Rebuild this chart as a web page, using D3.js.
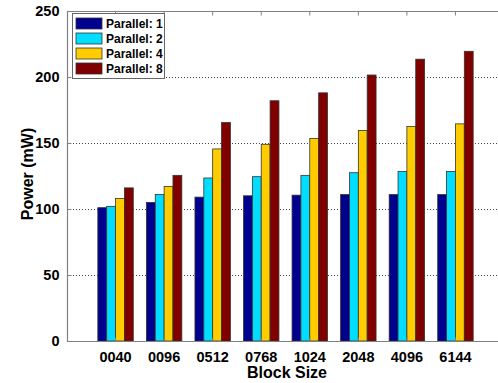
<!DOCTYPE html>
<html>
<head>
<meta charset="utf-8">
<script src="https://cdn.jsdelivr.net/npm/d3@7"></script>
<style>
  html, body { margin: 0; padding: 0; background: #fff; overflow: hidden; }
  text { font-family: "Liberation Sans", Arial, sans-serif; font-weight: bold; }
</style>
</head>
<body>
<div id="chart"></div>
<script>
// block sizes on the x axis
var blockSizes = ["0040", "0096", "0512", "0768", "1024", "2048", "4096", "6144"];
// one series per parallel level
var seriesNames = ["Parallel: 1", "Parallel: 2", "Parallel: 4", "Parallel: 8"];
var parallel1 = [101, 105, 109, 110, 110.5, 111, 111, 111];
var parallel2 = [102, 111, 123.5, 124.5, 125.5, 127.5, 128.5, 128.5];
var parallel4 = [108, 117, 145.5, 149, 153.5, 159.5, 162.5, 164.5];
var parallel8 = [116, 125.5, 165.5, 182, 188, 201.5, 213.5, 219.5];
var yTicks = [0, 50, 100, 150, 200, 250];
var colors = ["#00008f", "#00ddff", "#ffcc00", "#800000"];

var values = [parallel1, parallel2, parallel4, parallel8];

var width = 498, height = 383;
// plot box (note: "top" is reserved on window, so use plot* names)
var plotLeft = 67, plotTop = 11, plotRight = 504, plotBottom = 341;

var svg = d3.select("#chart").append("svg")
    .attr("width", width)
    .attr("height", height);

var x = d3.scaleBand()
    .domain(blockSizes)
    .range([plotLeft, plotRight])
    .paddingInner(0)
    .paddingOuter(0.5);

var groupW = x.step() * 0.73;
var xs = d3.scaleBand()
    .domain(d3.range(seriesNames.length))
    .range([0, groupW]);

var y = d3.scaleLinear()
    .domain([0, 250])
    .range([plotBottom, plotTop]);

// dotted grid lines (drawn under the bars)
svg.append("g")
  .selectAll("line")
  .data(yTicks.filter(function (d) { return d > 0 && d < 250; }))
  .enter().append("line")
    .attr("x1", plotLeft).attr("x2", width)
    .attr("y1", function (d) { return y(d) + 0.5; })
    .attr("y2", function (d) { return y(d) + 0.5; })
    .attr("stroke", "#444")
    .attr("stroke-width", 1)
    .attr("stroke-dasharray", "1,2");

// bars
var groups = svg.append("g")
  .selectAll("g")
  .data(blockSizes)
  .enter().append("g")
    .attr("transform", function (d) {
      return "translate(" + (x(d) + (x.bandwidth() - groupW) / 2) + ",0)";
    });

groups.selectAll("rect")
  .data(function (d, i) {
    return values.map(function (s, j) { return { s: j, v: s[i] }; });
  })
  .enter().append("rect")
    .attr("x", function (d) { return xs(d.s); })
    .attr("width", xs.bandwidth())
    .attr("y", function (d) { return y(d.v); })
    .attr("height", function (d) { return y(0) - y(d.v); })
    .attr("fill", function (d) { return colors[d.s]; })
    .attr("stroke", "#333")
    .attr("stroke-width", 0.8);

// axes frame
var axisColor = "#808080";
svg.append("line").attr("x1", plotLeft + 0.5).attr("x2", plotLeft + 0.5)
    .attr("y1", plotTop).attr("y2", plotBottom).attr("stroke", axisColor).attr("stroke-width", 1.2);
svg.append("line").attr("x1", plotLeft).attr("x2", width)
    .attr("y1", plotBottom + 0.5).attr("y2", plotBottom + 0.5).attr("stroke", axisColor).attr("stroke-width", 1.2);
svg.append("line").attr("x1", plotLeft).attr("x2", width)
    .attr("y1", plotTop + 0.5).attr("y2", plotTop + 0.5).attr("stroke", axisColor).attr("stroke-width", 1.2);

// y axis, ticks point inward
var yAxis = svg.append("g")
    .attr("transform", "translate(" + (plotLeft + 0.5) + ",0)")
    .call(d3.axisLeft(y).tickValues(yTicks).tickSizeInner(-4).tickSizeOuter(0).tickPadding(8));
yAxis.select(".domain").remove();
yAxis.selectAll(".tick line").attr("stroke", axisColor);
yAxis.selectAll("text").attr("font-size", 14.5).attr("fill", "#000")
    .attr("font-family", "Liberation Sans, Arial, sans-serif").attr("font-weight", "bold");

// x axis (bottom + top ticks)
var xAxis = svg.append("g")
    .attr("transform", "translate(0," + (plotBottom + 0.5) + ")")
    .call(d3.axisBottom(x).tickSizeInner(-4).tickSizeOuter(0).tickPadding(10));
xAxis.select(".domain").remove();
xAxis.selectAll(".tick line").attr("stroke", axisColor);
xAxis.selectAll("text").attr("font-size", 14.5).attr("fill", "#000")
    .attr("font-family", "Liberation Sans, Arial, sans-serif").attr("font-weight", "bold");

var xTop = svg.append("g")
    .attr("transform", "translate(0," + (plotTop + 0.5) + ")")
    .call(d3.axisTop(x).tickSizeInner(-4).tickSizeOuter(0).tickFormat(""));
xTop.select(".domain").remove();
xTop.selectAll(".tick line").attr("stroke", axisColor);

// axis titles
svg.append("text")
    .attr("x", 287)
    .attr("y", 377.5)
    .attr("text-anchor", "middle")
    .attr("font-size", 16)
    .text("Block Size");

svg.append("text")
    .attr("transform", "translate(33,174) rotate(-90)")
    .attr("text-anchor", "middle")
    .attr("font-size", 16)
    .text("Power (mW)");

// legend
var legend = svg.append("g");
legend.append("rect")
    .attr("x", 72.5).attr("y", 13.5)
    .attr("width", 92).attr("height", 65)
    .attr("fill", "#fff")
    .attr("stroke", "#666")
    .attr("stroke-width", 1);

var items = legend.selectAll("g.item")
  .data(seriesNames)
  .enter().append("g")
    .attr("class", "item")
    .attr("transform", function (d, i) { return "translate(0," + (23.5 + i * 15) + ")"; });

items.append("rect")
    .attr("x", 76).attr("y", -5.5)
    .attr("width", 26).attr("height", 11)
    .attr("fill", function (d, i) { return colors[i]; })
    .attr("stroke", "#333")
    .attr("stroke-width", 0.8);

items.append("text")
    .attr("x", 106)
    .attr("y", 4.5)
    .attr("font-size", 12)
    .text(function (d) { return d; });
</script>
</body>
</html>
